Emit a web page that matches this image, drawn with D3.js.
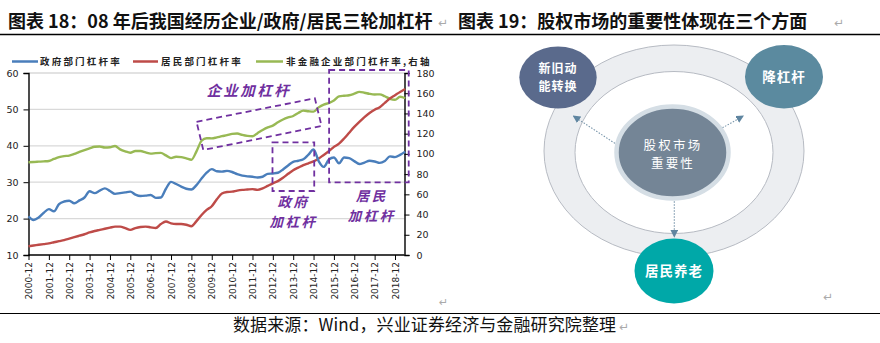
<!DOCTYPE html>
<html><head><meta charset="utf-8">
<script src="https://cdn.jsdelivr.net/npm/d3@7"></script>
<style>
body{margin:0;background:#fff;}
svg{display:block;}
</style></head><body>
<svg id="c" width="880" height="343"></svg>
<script>
// ---------- DATA ----------
const xTickLabels = ["2000-12","2001-12","2002-12","2003-12","2004-12","2005-12","2006-12","2007-12","2008-12","2009-12","2010-12","2011-12","2012-12","2013-12","2014-12","2015-12","2016-12","2017-12","2018-12"];
const leftTicks = [10,20,30,40,50,60];
const rightTicks = [0,20,40,60,80,100,120,140,160,180];
const seriesNames = ["政府部门杠杆率","居民部门杠杆率","非金融企业部门杠杆率,右轴"];
// quarterly, 2000-12 .. 2019-06
const govLeverage = [20.6,19.6,20.3,21.6,22.6,22.0,24.0,24.7,24.9,24.2,25.0,25.8,27.5,27.0,27.7,28.3,27.6,26.8,27.0,27.2,27.4,26.6,26.2,26.3,26.5,25.7,25.8,28.2,30.1,29.5,28.8,28.2,28.0,29.2,31.0,32.6,33.6,33.0,32.9,33.1,32.8,32.2,31.8,31.6,31.5,31.3,31.5,32.3,32.4,32.6,33.5,34.6,35.6,35.9,36.3,37.6,39.0,35.8,34.2,36.2,36.8,35.2,36.8,36.6,35.8,35.0,35.4,35.9,35.7,35.3,35.8,37.1,36.9,37.5,38.4];
const householdLeverage = [12.4,12.6,12.8,13.0,13.2,13.5,13.8,14.1,14.5,14.9,15.3,15.7,16.2,16.6,16.9,17.2,17.5,17.8,17.8,17.4,16.9,17.4,17.7,17.8,17.6,17.4,18.5,19.2,18.7,18.5,18.5,18.3,17.9,19.3,21.0,22.4,23.4,25.3,26.9,27.3,27.4,27.7,27.9,28.0,28.1,27.9,28.3,29.0,29.7,30.3,31.2,32.3,33.3,34.0,34.7,35.2,35.7,36.5,37.5,38.5,39.7,40.6,42.0,43.6,45.2,46.6,47.9,49.0,49.9,50.6,51.8,53.0,53.9,54.8,55.6];
const corporateLeverage = [91.8,92.0,92.3,92.6,93.0,95.0,96.8,97.8,98.3,100.0,102.0,103.8,105.5,107.0,107.3,106.3,106.5,107.8,104.5,102.5,101.2,102.8,102.8,101.5,100.3,100.8,101.0,98.5,95.8,97.2,96.8,95.5,94.2,102.5,113.0,115.5,115.3,116.3,117.5,118.5,119.8,120.2,118.8,117.8,117.4,120.5,123.6,126.2,128.0,131.3,134.0,136.0,137.5,140.5,142.8,142.2,141.8,146.0,148.8,150.3,152.8,156.8,157.5,158.0,159.5,161.3,160.5,159.4,158.8,158.9,157.0,154.5,153.5,156.5,155.0];
const startYear = 2000, startMonth = 12;
const quarters = govLeverage.map((_, i) => {
  const m = startMonth - 1 + i * 3;
  return { y: startYear + Math.floor(m / 12), m: (m % 12) + 1 };
});
const diagramLabels = { center: ["股权市场","重要性"], topLeft: ["新旧动","能转换"], topRight: ["降杠杆"], bottom: ["居民养老"] };
const annoTexts = { corp: ["企业加杠杆"], gov: ["政府","加杠杆"], hh: ["居民","加杠杆"] };

// ---------- SETUP ----------
const svg = d3.select("#c");
const tval = d => d.y + (d.m - 1) / 12;
const parseLbl = s => { const [y, m] = s.split("-").map(Number); return y + (m - 1) / 12; };
const x = d3.scaleLinear().domain([parseLbl("2000-12"), parseLbl("2018-12")]).range([28.5, 395]);
const yL = d3.scaleLinear().domain([10, 60]).range([255, 73]);
const yR = d3.scaleLinear().domain([0, 180]).range([255, 73]);
const plotL = 28.5, plotR = 404.5;

// multi-line text helper
function mtext(g, lines, cx, cy, gap, attrs) {
  const y0 = cy - (lines.length - 1) / 2 * gap;
  lines.forEach((s, i) => {
    const t = g.append("text").attr("text-anchor", "middle").attr("x", cx).attr("y", y0 + i * gap).attr("dy", "0.36em");
    Object.entries(attrs).forEach(([k, v]) => t.attr(k, v));
    t.text(s);
  });
}

// titles
const titleFont = "'Noto Sans CJK SC', sans-serif";
svg.append("text").attr("x", 8).attr("y", 28).attr("font-family", titleFont).attr("font-weight", 700)
  .attr("font-size", 18).attr("fill", "#111").text("图表 18：08 年后我国经历企业/政府/居民三轮加杠杆");
svg.append("text").attr("x", 458).attr("y", 28).attr("font-family", titleFont).attr("font-weight", 700)
  .attr("font-size", 18).attr("fill", "#111").text("图表 19：股权市场的重要性体现在三个方面");
[[438, 27, 12], [834, 27, 12], [619, 331, 12], [439, 306, 11], [823, 301, 12]].forEach(([ax, ay, fs]) =>
  svg.append("text").attr("x", ax).attr("y", ay).attr("font-size", fs).attr("fill", "#aaa")
    .attr("font-family", "DejaVu Sans").text("↵"));
svg.append("line").attr("x1", 0).attr("x2", 880).attr("y1", 34.5).attr("y2", 34.5).attr("stroke", "#000").attr("stroke-width", 1.5);
svg.append("line").attr("x1", 0).attr("x2", 880).attr("y1", 313.5).attr("y2", 313.5).attr("stroke", "#000").attr("stroke-width", 1.2);
svg.append("text").attr("x", 233).attr("y", 331).attr("font-family", titleFont).attr("font-size", 17)
  .attr("textLength", 383).attr("fill", "#111").text("数据来源：Wind，兴业证券经济与金融研究院整理");

// legend
const colors = ["#4A7EBB", "#BE4B48", "#98B954"];
const legendPos = [[12, 38, 40], [133, 158, 161], [256, 283, 286]];
seriesNames.forEach((n, i) => {
  const [a, b, t] = legendPos[i];
  svg.append("line").attr("x1", a).attr("x2", b).attr("y1", 61.5).attr("y2", 61.5)
    .attr("stroke", colors[i]).attr("stroke-width", 2.5);
  svg.append("text").attr("x", t).attr("y", 65).attr("font-family", titleFont).attr("font-weight", 700)
    .attr("font-size", 9.5).attr("letter-spacing", 2.2).attr("fill", "#222").text(n);
});

// gridlines
svg.append("g").selectAll("line").data(leftTicks.filter(v => v > 10)).join("line")
  .attr("x1", plotL).attr("x2", plotR).attr("y1", d => yL(d)).attr("y2", d => yL(d))
  .attr("stroke", "#D9D9D9").attr("stroke-width", 1.3);

// axes
const axFont = "DejaVu Sans";
const gL = svg.append("g").attr("transform", `translate(${plotL},0)`)
  .call(d3.axisLeft(yL).tickValues(leftTicks).tickSize(5).tickPadding(5).tickFormat(d3.format("d")));
const gR = svg.append("g").attr("transform", `translate(${plotR},0)`)
  .call(d3.axisRight(yR).tickValues(rightTicks).tickSize(5).tickPadding(7).tickFormat(d3.format("d")));
const gX = svg.append("g").attr("transform", `translate(0,255)`)
  .call(d3.axisBottom(x).tickValues(xTickLabels.map(parseLbl)).tickSize(5)
    .tickFormat((d, i) => xTickLabels[i]));
[gL, gR, gX].forEach(g => {
  g.select(".domain").attr("stroke", "#000").attr("stroke-width", 1.4);
  g.selectAll(".tick line").attr("stroke", "#000");
  g.selectAll("text").attr("font-family", axFont).attr("font-size", 9.5).attr("fill", "#222");
});
gX.select(".domain").attr("d", `M${plotL},0H${plotR}`);
gX.selectAll(".tick text").attr("transform", "rotate(-90)").attr("text-anchor", "end")
  .attr("x", -7).attr("y", 0).attr("dy", "0.35em").attr("font-size", 9);

// lines
const lineL = d3.line().x((d, i) => x(tval(quarters[i]))).y(d => yL(d)).curve(d3.curveMonotoneX);
const lineR = d3.line().x((d, i) => x(tval(quarters[i]))).y(d => yR(d)).curve(d3.curveMonotoneX);
svg.append("path").datum(corporateLeverage).attr("d", lineR).attr("fill", "none").attr("stroke", colors[2]).attr("stroke-width", 2.4);
svg.append("path").datum(householdLeverage).attr("d", lineL).attr("fill", "none").attr("stroke", colors[1]).attr("stroke-width", 2.4);
svg.append("path").datum(govLeverage).attr("d", lineL).attr("fill", "none").attr("stroke", colors[0]).attr("stroke-width", 2.4);

// annotations (data-space anchors)
const purple = "#7030A0";
const dash = "6,4";
const corpPoly = [[2009.17, 46.6], [2014.98, 53.05], [2015.31, 45.44], [2009.5, 38.85]];
svg.append("path").attr("d", "M" + corpPoly.map(p => [x(p[0]), yL(p[1])].join(",")).join("L") + "Z")
  .attr("fill", "none").attr("stroke", purple).attr("stroke-width", 1.8).attr("stroke-dasharray", dash);
const boxes = [[2012.9, 2014.95, 40.96, 27.58], [2015.68, 2019.59, 60.82, 29.97]];
boxes.forEach(([a, b, t, bt]) => svg.append("rect").attr("x", x(a)).attr("y", yL(t))
  .attr("width", x(b) - x(a)).attr("height", yL(bt) - yL(t))
  .attr("fill", "none").attr("stroke", purple).attr("stroke-width", 1.8).attr("stroke-dasharray", dash));
const annoAttrs = { "font-family": titleFont, "font-weight": 700, "font-style": "italic", "font-size": 13.5,
  "letter-spacing": 2.5, fill: purple };
mtext(svg, annoTexts.corp, x(2011.74), yL(55.05), 0, { ...annoAttrs, "font-size": 14.5 });
mtext(svg, annoTexts.gov, x(2013.93), yL(21.8), 19.8, annoAttrs);
mtext(svg, annoTexts.hh, x(2017.78), yL(23.45), 19.8, annoAttrs);

// ---------- RIGHT DIAGRAM ----------
const D = svg.append("g");
const cx = 674;
D.append("ellipse").attr("cx", cx).attr("cy", 151).attr("rx", 130).attr("ry", 106)
  .attr("fill", "#ECEEF1").attr("stroke", "#B7BBC3").attr("stroke-width", 1);
D.append("ellipse").attr("cx", cx).attr("cy", 152.5).attr("rx", 99).attr("ry", 81)
  .attr("fill", "#fff").attr("stroke", "#B7BBC3").attr("stroke-width", 1);

const arrowCol = "#7895AA";
D.append("defs").append("marker").attr("id", "ah").attr("viewBox", "0 0 10 10").attr("refX", 9).attr("refY", 5)
  .attr("markerWidth", 7).attr("markerHeight", 7).attr("orient", "auto")
  .append("path").attr("d", "M0,0L10,5L0,10Z").attr("fill", "#5F85A0");
[[620, 146.7, 573.3, 116], [706.7, 136.7, 743.3, 116], [674.3, 198.3, 674.3, 237]].forEach(([a, b, c, d]) =>
  D.append("line").attr("x1", a).attr("y1", b).attr("x2", c).attr("y2", d)
    .attr("stroke", arrowCol).attr("stroke-width", 1.1).attr("stroke-dasharray", "1.5,1.5").attr("marker-end", "url(#ah)"));

D.append("ellipse").attr("cx", 672.5).attr("cy", 152.5).attr("rx", 56).attr("ry", 46)
  .attr("fill", "#748596").attr("stroke", "#D5DEE5").attr("stroke-width", 4.5);

const nodes = [
  { cx: 558, cy: 77.5, rx: 38.7, ry: 31, fill: "#5A6A8C", lines: diagramLabels.topLeft },
  { cx: 784, cy: 76.7, rx: 39, ry: 31.7, fill: "#5B8A9F", lines: diagramLabels.topRight },
  { cx: 674, cy: 271, rx: 39.5, ry: 32.5, fill: "#00A8A8", lines: diagramLabels.bottom }
];
nodes.forEach(n => {
  D.append("ellipse").attr("cx", n.cx).attr("cy", n.cy).attr("rx", n.rx).attr("ry", n.ry).attr("fill", n.fill);
  mtext(D, n.lines, n.cx, n.cy, 17.6, { "font-family": titleFont, "font-weight": 700,
    "font-size": n.lines.length > 1 ? 12 : 13.5, "letter-spacing": 1, fill: "#fff" });
});
mtext(D, diagramLabels.center, 673, 154.5, 18.2, { "font-family": titleFont, "font-size": 12.5,
  "letter-spacing": 2.2, fill: "#fff" });
</script>
</body></html>
